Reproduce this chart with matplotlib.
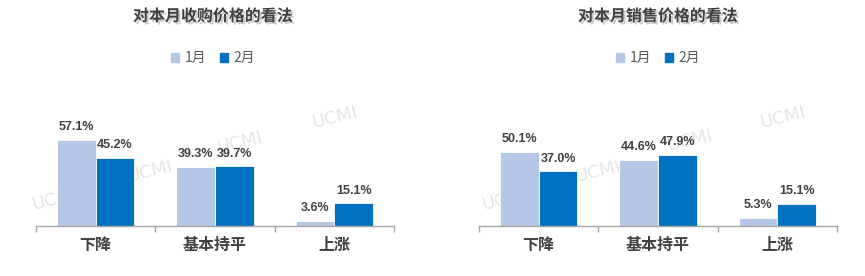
import matplotlib
matplotlib.use("Agg")
import matplotlib.pyplot as plt
import matplotlib.patheffects as pe
import numpy as np

plt.rcParams['font.family'] = ['Noto Sans CJK SC', 'DejaVu Sans']

categories = ['下降', '基本持平', '上涨']
series_names = ['1月', '2月']
buy_jan = [57.1, 39.3, 3.6]
buy_feb = [45.2, 39.7, 15.1]
sell_jan = [50.1, 44.6, 5.3]
sell_feb = [37.0, 47.9, 15.1]
titles = ['对本月收购价格的看法', '对本月销售价格的看法']
watermark = 'UCMI'

c_jan = '#B4C7E7'
c_feb = '#0070C0'
dark = '#404040'

fig = plt.figure(figsize=(8.65, 2.76), dpi=100)

def px(x, y):
    return x / 865, 1 - y / 276

panels = [
    (36, buy_jan, buy_feb, titles[0], 97, 213, [(55, 200), (150, 172), (240, 143), (335, 118)]),
    (479, sell_jan, sell_feb, titles[1], 98.8, 658, [(505, 200), (598, 172), (690, 141), (783, 118)]),
]

for left, jan, feb, title, ymax, cx, marks in panels:
    # watermarks behind the bars
    for mx, my in marks:
        fx, fy = px(mx, my)
        fig.text(fx, fy, watermark, fontsize=13, color='#E6E6E6', rotation=14,
                 ha='center', va='center', family='DejaVu Sans', zorder=-1)

    ax = fig.add_axes([left / 865, 50 / 276, 358 / 865, 146 / 276])
    ax.set_facecolor('none')
    x = np.arange(len(categories))
    w = 0.325
    b1 = ax.bar(x - w / 2, jan, w, color=c_jan, edgecolor='white', linewidth=0.6)
    b2 = ax.bar(x + w / 2, feb, w, color=c_feb, edgecolor='white', linewidth=0.6)
    for bars, vals in ((b1, jan), (b2, feb)):
        for r, v in zip(bars, vals):
            ax.annotate('%.1f%%' % v, (r.get_x() + r.get_width() / 2, v),
                        xytext=(0, 7), textcoords='offset points',
                        ha='center', va='baseline', fontsize=9, fontweight='bold',
                        color=dark, family='Liberation Sans')
    ax.set_xlim(-0.5, 2.5)
    ax.set_ylim(0, ymax)
    for s in ['top', 'right', 'left']:
        ax.spines[s].set_visible(False)
    ax.spines['bottom'].set_color('#A6A6A6')
    ax.spines['bottom'].set_linewidth(1.0)
    ax.set_yticks([])
    ax.set_xticks(x)
    ax.set_xticklabels(categories, fontsize=11.5, fontweight='bold', color=dark)
    ax.tick_params(axis='x', which='major', length=0, pad=8)
    ax.set_xticks([-0.5, 0.5, 1.5, 2.5], minor=True)
    ax.tick_params(axis='x', which='minor', length=4, color='#A6A6A6', width=1.0)

    tx, ty = px(cx, 16)
    fig.text(tx, ty, title, fontsize=11.5, fontweight='bold', color=dark,
             ha='center', va='center',
             path_effects=[pe.withSimplePatchShadow(offset=(1.5, -1.5), shadow_rgbFace='#999999', alpha=0.5)])

    lx, ly = px(cx, 58)
    h = [plt.Rectangle((0, 0), 1, 1, color=c_jan), plt.Rectangle((0, 0), 1, 1, color=c_feb)]
    fig.legend(h, series_names, loc='center', bbox_to_anchor=(lx, ly), ncol=2, frameon=False,
               fontsize=10, handlelength=0.6, handleheight=0.6, handletextpad=0.4,
               columnspacing=1.0, labelcolor='#595959')

fig.savefig('out.png', dpi=100)
